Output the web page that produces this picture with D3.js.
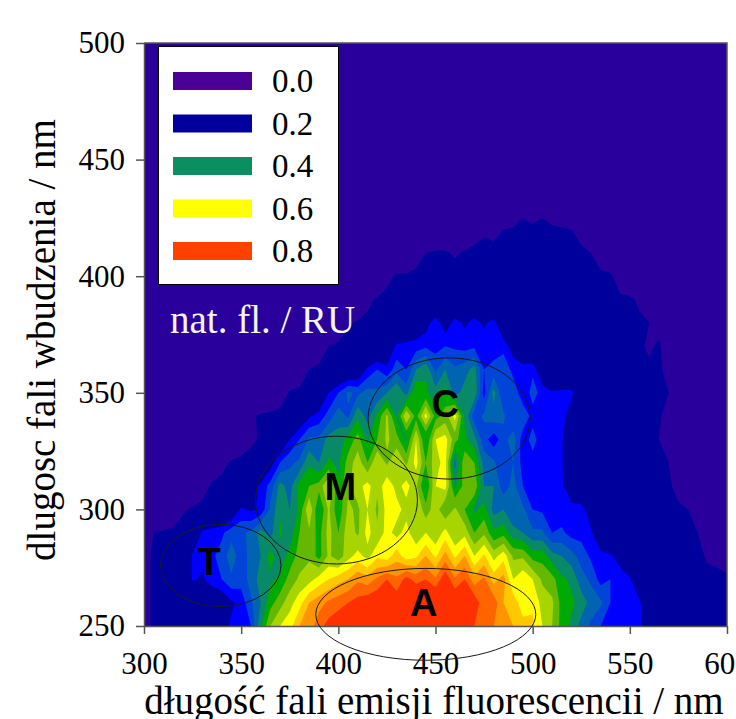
<!DOCTYPE html>
<html>
<head>
<meta charset="utf-8">
<script src="https://cdn.jsdelivr.net/npm/d3@7"></script>
<style>
  html, body { margin: 0; padding: 0; background: #fff; overflow: hidden; }
  svg { display: block; }
  text { font-family: "Liberation Serif", serif; fill: #000; }
  .peak { font-family: "Liberation Sans", sans-serif; font-weight: bold; font-size: 38px; }
  .domain, .tick line { stroke: #555; stroke-width: 1.5; }
</style>
</head>
<body>
<svg id="eem" width="736" height="719"></svg>
<script>
// fluorescence values in percent of RU
// one row per excitation wavelength, one value per emission wavelength (300..600 step 5)
const emissionStart = 300, emissionStep = 5;
const excitationStart = 250, excitationStep = 10;

const row250 = [8,11,14,15,14,16,17,18,22,26, 26,30,44,55,60,63,70,72,78,82, 84,86,88,88,88,88,88,88,88,88, 88,88,87,86,80,78,75,72,70,67, 66,60,55,48,44,38,34,30,27,28, 27,26,22,17,16,15,14,15,14,14, 13];
const row260 = [8,11,13,14,13,14,15,18,20,24, 27,34,40,48,53,58,63,70,73,76, 78,80,82,84,85,87,84,86,88,87, 88,84,86,82,84,76,78,70,68,62, 64,58,56,48,46,43,38,36,30,26, 27,26,18,13,13,13,13,12,12,12, 12];
const row270 = [8,11,12,12,14,26,24,28,30,34, 32,37,42,44,46,52,56,58,62,65, 68,70,74,72,76,80,76,82,78,80, 76,84,76,80,72,76,68,72,60,64, 60,54,52,46,44,37,34,28,30,28, 26,15,14,13,13,13,12,12,12,12, 11];
const row280 = [8,11,12,12,14,26,27,29,32,38, 32,37,40,47,42,47,52,54,48,56, 52,58,62,58,64,62,68,62,64,70, 64,72,64,70,60,66,58,63,54,54, 48,48,42,40,37,33,29,28,26,22, 14,12,12,12,12,12,12,12,9,8, 7];
const row290 = [4,10,11,12,13,16,26,28,29,33, 34,36,42,38,46,42,50,54,48,57, 50,58,54,62,56,62,58,62,56,60, 56,62,55,58,50,54,46,48,42,40, 36,36,30,31,28,28,26,14,12,12, 11,11,11,11,11,11,11,10,9,7, 5];
const row300 = [1,1,2,3,9,11,12,13,14,18, 26,24,26,36,44,40,46,60,44,56, 46,56,54,60,54,62,62,58,60,52, 58,50,56,50,44,47,38,40,35,36, 30,29,28,27,27,28,20,12,11,11, 11,11,11,11,11,11,10,8,7,4, 3];
const row310 = [1,1,1,1,2,3,7,11,12,13, 15,22,26,32,42,38,47,50,52,60, 46,54,58,62,56,64,58,62,56,44, 60,62,44,52,54,40,40,32,37,30, 29,28,27,26,20,14,12,12,12,12, 12,11,11,11,11,8,6,9,6,4, 3];
const row320 = [1,1,1,1,1,2,3,5,8,11, 12,14,18,22,30,34,36,44,40,46, 44,52,58,50,60,54,60,54,62,50, 58,62,38,54,50,38,36,30,35,28, 28,27,28,26,14,12,12,12,12,11, 11,11,11,11,10,7,8,5,9,4, 3];
const row330 = [1,1,1,1,1,1,1,1,1,2, 5,8,11,13,17,25,30,36,36,42, 42,47,52,44,50,56,52,44,60,44, 60,62,52,46,42,32,27,33,38,27, 32,27,28,26,15,11,11,11,11,11, 11,11,11,10,7,7,5,7,3,2, 2];
const row340 = [1,1,1,1,1,1,1,1,1,1, 3,9,11,12,13,15,19,24,27,32, 38,34,44,38,46,56,44,60,48,62, 48,52,62,44,32,36,38,36,30,34, 28,27,26,28,20,11,11,11,11,11, 11,11,11,11,7,5,6,4,2,1, 1];
const row350 = [1,1,1,1,1,1,1,1,1,1, 1,1,1,1,4,11,12,13,17,25, 30,36,34,37,36,40,45,38,50,46, 42,47,38,42,44,28,42,30,34,26, 32,28,26,27,27,14,11,11,11,11, 11,11,11,11,10,6,9,5,3,1, 1];
const row360 = [1,1,1,1,1,1,1,1,1,1, 1,1,1,1,1,1,3,10,12,13, 14,16,18,26,30,26,33,30,40,44, 34,40,36,38,42,30,32,34,28,27, 29,18,12,11,11,11,11,11,11,11, 11,11,11,11,8,4,2,1,1,1, 1];
const row370 = [1,1,1,1,1,1,1,1,1,1, 1,1,1,1,1,1,1,1,3,10, 12,13,14,15,15,20,26,27,27,29, 28,30,29,28,29,28,27,28,22,18, 14,12,11,11,11,11,11,11,11,11, 11,11,9,11,6,3,1,1,1,1, 1];
const row380 = [1,1,1,1,1,1,1,1,1,1, 1,1,1,1,1,1,1,1,1,1, 1,9,11,12,13,14,15,16,20,22, 28,21,27,24,27,24,27,17,13,12, 11,11,11,11,11,11,11,11,11,11, 11,11,10,7,3,1,1,1,1,1, 1];
const row390 = [1,1,1,1,1,1,1,1,1,1, 1,1,1,1,1,1,1,1,1,1, 1,1,1,8,11,12,13,13,14,14, 15,15,16,16,16,16,15,14,13,13, 12,12,12,11,11,11,11,11,11,11, 11,9,7,5,3,2,1,1,1,1, 1];
const row400 = [1,1,1,1,1,1,1,1,1,1, 1,1,1,1,1,1,1,1,1,1, 1,1,1,1,1,8,11,11,12,12, 12,12,13,13,13,13,13,13,13,13, 13,12,12,12,12,12,11,11,11,7, 4,3,2,1,1,1,1,1,1,1, 1];
const row410 = [1,1,1,1,1,1,1,1,1,1, 1,1,1,1,1,1,1,1,1,1, 1,1,1,1,1,1,1,1,6,10, 11,11,9,11,11,12,12,12,12,12, 12,12,12,12,11,11,10,7,4,2, 1,1,1,1,1,1,1,1,1,1, 1];
const row420 = [1,1,1,1,1,1,1,1,1,1, 1,1,1,1,1,1,1,1,1,1, 1,1,1,1,1,1,1,1,1,1, 1,1,1,1,8,9,8,10,11,11, 11,11,11,11,10,8,4,1,1,1, 1,1,1,1,1,1,1,1,1,1, 1];
const row430 = [1,1,1,1,1,1,1,1,1,1, 1,1,1,1,1,1,1,1,1,1, 1,1,1,1,1,1,1,1,1,1, 1,1,1,1,1,1,1,1,1,9, 7,9,6,1,1,1,1,1,1,1, 1,1,1,1,1,1,1,1,1,1, 1];
const row440 = [1,1,1,1,1,1,1,1,1,1, 1,1,1,1,1,1,1,1,1,1, 1,1,1,1,1,1,1,1,1,1, 1,1,1,1,1,1,1,1,1,1, 1,1,1,1,1,1,1,1,1,1, 1,1,1,1,1,1,1,1,1,1, 1];

const rows = [row250, row260, row270, row280, row290, row300, row310, row320, row330, row340,
              row350, row360, row370, row380, row390, row400, row410, row420, row430, row440];

const bandLevels = [10, 25, 30, 35, 40, 45, 50, 55, 60, 65, 70, 75, 80];
const bandColors = ["#00009c", "#0000ff", "#0044d8", "#0064b0", "#088a68", "#00aa00", "#64b800", "#a8d400",
                    "#ffff00", "#ffc800", "#ff9400", "#ff6400", "#ff3000"];
const baseColor = "#2a009c";

const legendLabels = ["0.0", "0.2", "0.4", "0.6", "0.8"];
const legendColors = ["#4b0096", "#00009c", "#0a9060", "#ffff00", "#ff4000"];

const tickValuesX = [300, 350, 400, 450, 500, 550, 600];
const tickValuesY = [250, 300, 350, 400, 450, 500];

const peakNames = ["T", "M", "C", "A"];
const peakEm = [339.5, 399, 457, 445];
const peakEx = [276, 304, 339, 255];
const peakRadiusEm = [31, 41.7, 41.7, 56.6];
const peakRadiusEx = [17.6, 27.4, 26, 19.7];
const peakLabelEm = [333.5, 401, 455, 444];
const peakLabelEx = [278, 310, 345.5, 260.5];

const svg = d3.select("svg#eem");
const bounds = { minX: 144, maxX: 727, minY: 43, maxY: 626 };

const scaleX = d3.scaleLinear().domain([300, 600]).range([bounds.minX, bounds.maxX]);
const scaleY = d3.scaleLinear().domain([250, 500]).range([bounds.maxY, bounds.minY]);

svg.append("clipPath").attr("id", "plot-clip").append("rect")
    .attr("x", bounds.minX).attr("y", bounds.minY)
    .attr("width", bounds.maxX - bounds.minX).attr("height", bounds.maxY - bounds.minY);

svg.append("rect")
    .attr("x", bounds.minX).attr("y", bounds.minY)
    .attr("width", bounds.maxX - bounds.minX).attr("height", bounds.maxY - bounds.minY)
    .attr("fill", baseColor);

// d3.contours works in grid cells, samples sit at cell centres
const gridProjection = d3.geoTransform({
    point(x, y) {
        this.stream.point(
            scaleX(emissionStart + (x - 0.5) * emissionStep),
            scaleY(excitationStart + (y - 0.5) * excitationStep));
    }
});

const contours = d3.contours()
    .size([rows[0].length, rows.length])
    .thresholds(bandLevels)(rows.flat());

svg.append("g").attr("clip-path", "url(#plot-clip)")
    .selectAll("path").data(contours).join("path")
    .attr("d", d3.geoPath(gridProjection))
    .attr("fill", (d, i) => bandColors[i]);

// frame on top and right
svg.append("path")
    .attr("d", `M${bounds.minX} ${bounds.minY}H${bounds.maxX}V${bounds.maxY}`)
    .attr("fill", "none").attr("stroke", "#555").attr("stroke-width", 1.5);

const xAxis = svg.append("g")
    .attr("transform", `translate(0 ${bounds.maxY})`)
    .call(d3.axisBottom(scaleX).tickValues(tickValuesX).tickSize(8).tickSizeOuter(0).tickPadding(18));
const yAxis = svg.append("g")
    .attr("transform", `translate(${bounds.minX} 0)`)
    .call(d3.axisLeft(scaleY).tickValues(tickValuesY).tickSize(8).tickSizeOuter(0).tickPadding(11));
xAxis.selectAll("text").style("font-size", "31px").style("font-family", '"Liberation Serif", serif').attr("fill", "#000");
yAxis.selectAll("text").style("font-size", "31px").style("font-family", '"Liberation Serif", serif').attr("fill", "#000");

svg.append("text")
    .attr("x", 434).attr("y", 714)
    .attr("text-anchor", "middle").attr("font-size", 39)
    .text("długość fali emisji fluorescencii / nm");
svg.append("text")
    .attr("transform", "translate(55 340) rotate(-90)")
    .attr("text-anchor", "middle").attr("font-size", 39)
    .text("dlugosc fali wbudzenia / nm");

// legend box
const legend = svg.append("g");
legend.append("rect")
    .attr("x", 158.5).attr("y", 46.5).attr("width", 180).attr("height", 238)
    .attr("fill", "#fff").attr("stroke", "#000").attr("stroke-width", 1);
const legendY = d3.scalePoint().domain(legendLabels).range([81, 251]);
legend.selectAll("rect.swatch").data(legendLabels).join("rect").attr("class", "swatch")
    .attr("x", 173).attr("width", 79).attr("height", 18)
    .attr("y", d => legendY(d) - 9)
    .attr("fill", (d, i) => legendColors[i]);
legend.selectAll("text").data(legendLabels).join("text")
    .attr("x", 272).attr("y", d => legendY(d) + 11)
    .attr("font-size", 33)
    .text(d => d);

svg.append("text")
    .attr("x", 170).attr("y", 333)
    .attr("font-size", 39)
    .style("fill", "#f4f4f4")
    .text("nat. fl. / RU");

// peak regions
svg.append("g").selectAll("ellipse").data(peakNames).join("ellipse")
    .attr("cx", (d, i) => scaleX(peakEm[i]))
    .attr("cy", (d, i) => scaleY(peakEx[i]))
    .attr("rx", (d, i) => scaleX(peakEm[i] + peakRadiusEm[i]) - scaleX(peakEm[i]))
    .attr("ry", (d, i) => scaleY(peakEx[i]) - scaleY(peakEx[i] + peakRadiusEx[i]))
    .attr("fill", "none").attr("stroke", "#1a1a1a").attr("stroke-width", 1);

svg.append("g").selectAll("text").data(peakNames).join("text")
    .attr("class", "peak")
    .attr("text-anchor", "middle")
    .attr("x", (d, i) => scaleX(peakLabelEm[i]))
    .attr("y", (d, i) => scaleY(peakLabelEx[i]) + 14)
    .text(d => d);
</script>
</body>
</html>
